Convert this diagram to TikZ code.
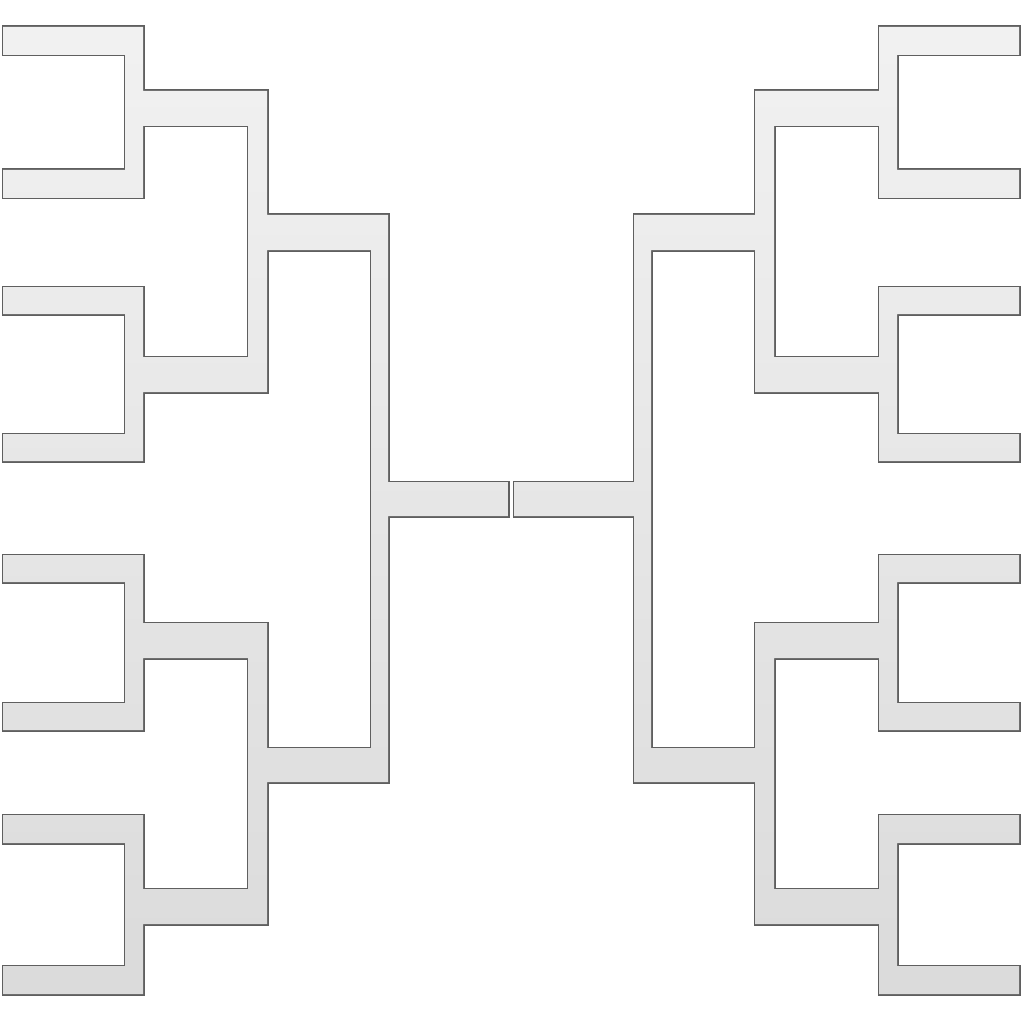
\documentclass[tikz,border=0pt]{standalone}
\begin{document}
\begin{tikzpicture}[x=1pt,y=-1pt]
\definecolor{barTop}{RGB}{242,242,242}
\definecolor{barBot}{RGB}{218,218,218}
\definecolor{barEdge}{RGB}{95,95,95}
\tikzset{edgeline/.style={draw=barEdge,line width=3pt,line join=miter}}
\fill[white] (0,0) rectangle (1024,1024);
\useasboundingbox (0,0) rectangle (1024,1024);
% left half of the bracket as a union of bars
\def\halfrects{
  % round 1, pair 1
  (3,27) rectangle (143,55) (3,170) rectangle (143,198) (125,27) rectangle (143,198)
  % round 1, pair 2
  (3,287) rectangle (143,314) (3,434) rectangle (143,461) (125,287) rectangle (143,461)
  % round 1, pair 3
  (3,555) rectangle (143,582) (3,703) rectangle (143,730) (125,555) rectangle (143,730)
  % round 1, pair 4
  (3,815) rectangle (143,843) (3,966) rectangle (143,994) (125,815) rectangle (143,994)
  % round 2 bars
  (125,91) rectangle (267,126) (125,357) rectangle (267,392)
  (125,623) rectangle (267,658) (125,889) rectangle (267,924)
  % round 2 verticals
  (248,91) rectangle (267,392) (248,623) rectangle (267,924)
  % round 3 bars
  (248,215) rectangle (388,250) (248,748) rectangle (388,782)
  % round 3 vertical
  (371,215) rectangle (388,782)
  % final bar
  (371,482) rectangle (508,516)
}
% outlines (left and mirrored right)
\path[edgeline] \halfrects;
\begin{scope}[shift={(1022,0)},xscale=-1]
  \path[edgeline] \halfrects;
\end{scope}
% fills
\begin{scope}
  \clip \halfrects;
  \shade[top color=barTop,bottom color=barBot] (0,0) rectangle (1024,1024);
\end{scope}
\begin{scope}[shift={(1022,0)},xscale=-1]
  \clip \halfrects;
  \shade[top color=barTop,bottom color=barBot] (0,0) rectangle (1024,1024);
\end{scope}
\end{tikzpicture}
\end{document}
